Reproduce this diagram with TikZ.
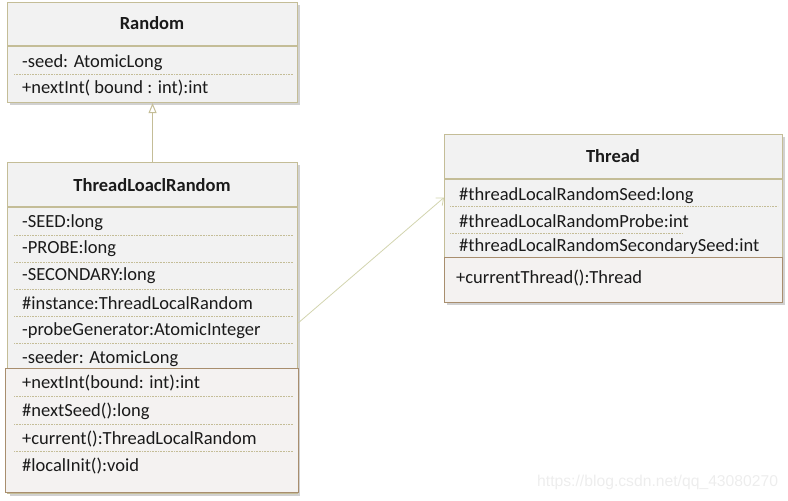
\documentclass[tikz,border=0pt]{standalone}
\usepackage{fontspec}
\setmainfont{Carlito}
\newfontfamily\wmfont{Liberation Sans}
\usepackage{tikz}
\usetikzlibrary{arrows.meta,positioning,shadows}
\definecolor{umlolive} {HTML}{C4BD97}
\definecolor{umlbrown} {HTML}{A88E6E}
\definecolor{umlfill}  {HTML}{F2F2F2}
\definecolor{umlmfill} {HTML}{F4F2F1}
\definecolor{umlline}  {HTML}{D2D4AE}
\definecolor{umlink}   {HTML}{1A1A1A}
\tikzset{
  umlbox/.style={draw=umlolive, fill=umlfill, line width=1.1pt, inner sep=0pt,
                 anchor=north west,
                 drop shadow={shadow xshift=2pt, shadow yshift=-2pt, fill=black, opacity=.18}},
  umlmeth/.style={draw=umlbrown, fill=umlmfill, line width=1.3pt, inner sep=0pt,
                  anchor=north west},
  umltitle/.style={font=\fontsize{18.5}{20}\selectfont\bfseries, text=umlink},
  umlrow/.style={anchor=west, inner sep=0pt, yshift=-1.5pt,
                 font=\fontsize{18.5}{20}\selectfont, text=umlink},
  umlsep/.style={draw=umlolive, densely dotted, line width=.6pt},
  umlhead/.style={draw=umlolive, line width=1.1pt},
  umlinherit/.style={-{Triangle[open, length=10pt, width=8pt]}, draw=umlolive, line width=1pt},
  umlassoc/.style={-{Straight Barb[length=6pt, width=10pt]}, draw=umlline, line width=.8pt},
}
\begin{document}
\begin{tikzpicture}[x=1pt,y=-1pt]
  \useasboundingbox (0,0) rectangle (788,501);

  % Random
  \node[umlbox, minimum width=290, minimum height=100] (rnd) at (7,2) {};
  \node[umltitle] (rndT) at (152,23) {Random};
  \draw[umlhead] (7,46) -- (297,46);
  \node[umlrow] (rnd1) at (22,61) {-seed: AtomicLong};
  \draw[umlsep] (14,74) -- (293,74);
  \node[umlrow] (rnd2) at (22,87) {+nextInt( bound : int):int};

  % ThreadLoaclRandom
  \node[umlbox, minimum width=290, minimum height=331] (tlr) at (7,162) {};
  \node[umltitle] (tlrT) at (152,185) {ThreadLoaclRandom};
  \draw[umlhead] (7,207) -- (297,207);
  \foreach \yy/\txt/\nm in {221/-SEED:long/a1, 247/-PROBE:long/a2, 274/-SECONDARY:long/a3,
      302/\#instance:ThreadLocalRandom/a4, 329/-probeGenerator:AtomicInteger/a5,
      357/-seeder: AtomicLong/a6}
    \node[umlrow] (tlr\nm) at (22,\yy) {\txt};
  \foreach \yy in {235,262,289,316,343}
    \draw[umlsep] (14,\yy) -- (293,\yy);
  \node[umlmeth, minimum width=293, minimum height=124] (tlrM) at (5,368) {};
  \foreach \yy/\txt/\nm in {382/+nextInt(bound: int):int/m1, 410/\#nextSeed():long/m2,
      438/+current():ThreadLocalRandom/m3, 465/\#localInit():void/m4}
    \node[umlrow] (tlr\nm) at (22,\yy) {\txt};
  \foreach \yy in {396,424,451}
    \draw[umlsep] (14,\yy) -- (293,\yy);

  % Thread
  \node[umlbox, minimum width=338, minimum height=168] (thr) at (444,134) {};
  \node[umltitle] (thrT) at (613,156) {Thread};
  \draw[umlhead] (444,179) -- (782,179);
  \node[umlrow] (thr1) at (459,194) {\#threadLocalRandomSeed:long};
  \draw[umlsep] (450,206) -- (778,206);
  \node[umlrow] (thr2) at (459,220) {\#threadLocalRandomProbe:int};
  \draw[umlsep] (450,233) -- (683,233);
  \node[umlrow] (thr3) at (459,245) {\#threadLocalRandomSecondarySeed:int};
  \node[umlmeth, minimum width=338, minimum height=45] (thrM) at (444,257) {};
  \node[umlrow] (thrm1) at (456,277) {+currentThread():Thread};

  % relations
  \draw[umlinherit] (tlr.north) -- (rnd.south);
  \draw[umlassoc] ([yshift=5pt]tlr.east) -- ([yshift=21pt]thr.west);

  \node[anchor=west, inner sep=0pt, text=black!7, font=\wmfont\fontsize{15.7}{17}\selectfont]
    (wm) at (537,482) {https://blog.csdn.net/qq\_43080270};
\end{tikzpicture}
\end{document}
